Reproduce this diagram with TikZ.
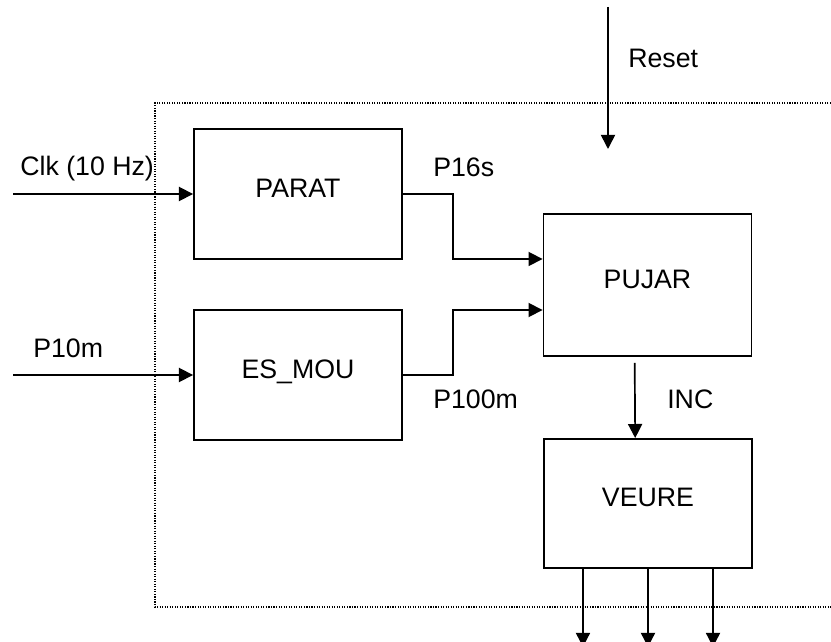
\documentclass[tikz,border=0pt]{standalone}
\usepackage{fontspec}
\setmainfont{Liberation Sans}
\usetikzlibrary{arrows.meta}

\begin{document}
\begin{tikzpicture}[
    x=0.025cm, y=-0.025cm,
    every node/.style={font=\fontsize{19}{23}\selectfont},
    blk/.style={rectangle, draw, line width=1.3pt, minimum width=5.2cm,
                minimum height=3.25cm, text depth=0.3cm, inner sep=0pt},
    sig/.style={line width=1.2pt, -{Triangle[length=10pt, width=10pt]}},
    frame/.style={line width=0.8pt, dash pattern=on 0.8pt off 1pt},
    lbl/.style={inner sep=0pt, anchor=base west},
  ]
  \useasboundingbox (0,0) rectangle (831,642);
  % dotted system border
  \draw[frame] (831,103) -- (155,103) -- (155,607) -- (831,607);

  \node[blk] (parat) at (298,194) {PARAT};
  \node[blk] (esmou) at (298,375) {ES\_MOU};
  \node[blk, minimum height=3.55cm] (pujar) at (647.5,285) {PUJAR};
  \node[blk, minimum height=3.225cm] (veure) at (648,503.5) {VEURE};

  \coordinate (clkin) at (13,194);
  \coordinate (p10in) at (13,375);
  \coordinate (rstin) at (608,7);
  \coordinate (rstend) at (608,149);

  \node[lbl] (clklbl) at (20,176) {Clk (10 Hz)};
  \node[lbl] (p10lbl) at (33,358) {P10m};
  \node[lbl] (rstlbl) at (628,68) {Reset};
  \node[lbl] (p16lbl) at (433,177) {P16s};
  \node[lbl] (p100lbl) at (433,409) {P100m};
  \node[lbl] (inclbl) at (667,409) {INC};

  \draw[sig] (clkin) -- (parat);
  \draw[sig] (p10in) -- (esmou);
  \draw[sig] (rstin) -- (rstend);
  \draw[sig] (parat) -- (453,194) |- ([yshift=0.65cm]pujar.west);
  \draw[sig] (esmou) -- (453,375) |- ([yshift=-0.625cm]pujar.west);
  \draw[sig] ([xshift=-0.32cm, yshift=-0.15cm]pujar.south) -- ([xshift=-0.32cm]veure.north);
  \foreach \dx in {-1.625,0,1.625}
    \draw[sig] ([xshift=\dx cm]veure.south) -- ++(0,78);
\end{tikzpicture}
\end{document}
